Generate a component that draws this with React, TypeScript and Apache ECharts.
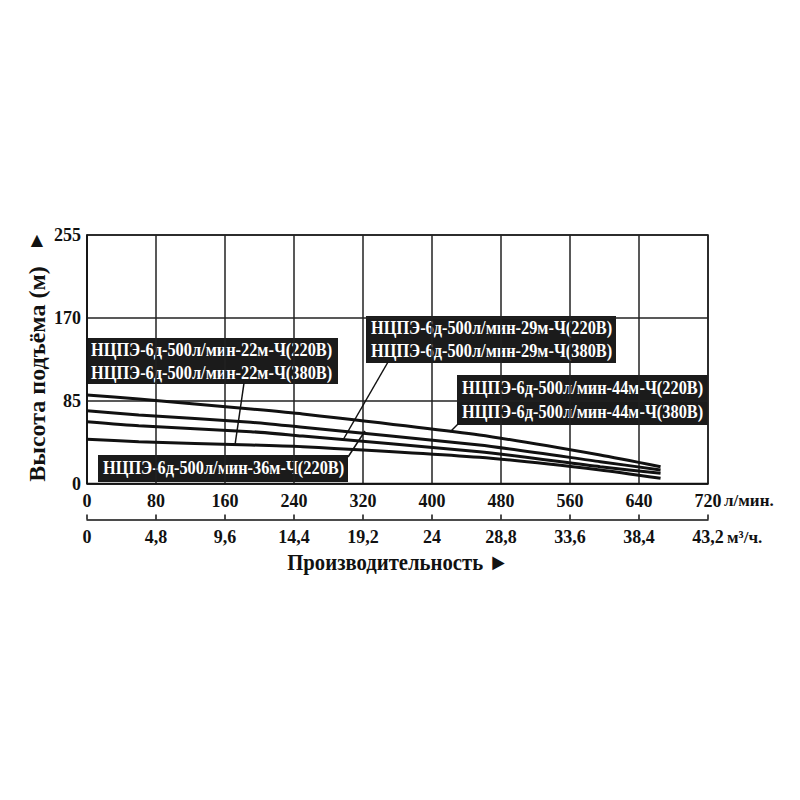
import { useEffect, useRef } from "react";
import * as echarts from "echarts";

// Flow rate points (l/min) at which head values were read
const flowPoints = [0, 60, 190, 250, 455, 595, 665];
// Head (m) for each model
const head44 = [90.8, 86.7, 76.4, 71.3, 49.8, 29.2, 17.2];
const head36 = [74.7, 70.3, 62.8, 57.7, 39.5, 22.4, 13.9];
const head29 = [63.4, 59.3, 53.2, 48.7, 32.6, 17.2, 10.5];
const head22 = [45.4, 42.9, 39.5, 37.8, 26.9, 13.9, 5.3];

const flowMin = 0;
const flowMax = 720;
const flowStep = 80;
const headMin = 0;
const headMax = 255;
const headStep = 85;
const m3TickLabels = ["0", "4,8", "9,6", "14,4", "19,2", "24", "28,8", "33,6", "38,4", "43,2"];

const labels22 = ["НЦПЭ-6д-500л/мин-22м-Ч(220В)", "НЦПЭ-6д-500л/мин-22м-Ч(380В)"];
const labels29 = ["НЦПЭ-6д-500л/мин-29м-Ч(220В)", "НЦПЭ-6д-500л/мин-29м-Ч(380В)"];
const labels44 = ["НЦПЭ-6д-500л/мин-44м-Ч(220В)", "НЦПЭ-6д-500л/мин-44м-Ч(380В)"];
const labels36 = ["НЦПЭ-6д-500л/мин-36м-Ч(220В)"];

const FONT = '"Liberation Serif", "Times New Roman", serif';

function box(x: number, y: number, w: number, h: number, lines: string[], lineYs: number[]) {
  return {
    type: "group",
    z: 100,
    children: [
      { type: "rect", shape: { x, y, width: w, height: h }, style: { fill: "#1b1b1b" } },
      ...lines.map((t, i) => ({
        type: "text",
        x: x + 5,
        y: lineYs[i],
        scaleX: 0.86,
        style: {
          text: t,
          fill: "#ffffff",
          fontSize: 19,
          fontWeight: "bold",
          fontFamily: FONT,
          textAlign: "left",
          textVerticalAlign: "middle",
        },
      })),
    ],
  };
}

function leader(x1: number, y1: number, x2: number, y2: number) {
  return {
    type: "line",
    z: 100,
    shape: { x1, y1, x2, y2 },
    style: { stroke: "#111", lineWidth: 1.5 },
  };
}

export default function App() {
  const ref = useRef<HTMLDivElement>(null);
  useEffect(() => {
    if (!ref.current) return;
    const chart = echarts.init(ref.current, undefined, { renderer: "svg" });
    const mk = (vals: number[]) => flowPoints.map((x, i) => [x, vals[i]]);
    const lineSeries = (name: string, vals: number[]) => ({
      name,
      type: "line",
      data: mk(vals),
      smooth: 0.2,
      symbol: "none",
      lineStyle: { color: "#111", width: 3 },
      xAxisIndex: 0,
      yAxisIndex: 0,
    });
    const labelStyle = { color: "#111", fontSize: 18, fontWeight: "bold", fontFamily: FONT };
    chart.setOption({
      animation: false,
      backgroundColor: "#ffffff",
      grid: {
        left: 87,
        top: 235,
        right: 92,
        bottom: 316.5,
        show: true,
        borderColor: "#111",
        borderWidth: 1.5,
        backgroundColor: "transparent",
      },
      xAxis: [
        {
          type: "value",
          min: flowMin,
          max: flowMax,
          interval: flowStep,
          position: "bottom",
          axisLine: { show: true, lineStyle: { color: "#111", width: 1.5 } },
          axisTick: { show: false },
          axisLabel: { ...labelStyle, margin: 8 },
          splitLine: { show: true, lineStyle: { color: "#222", width: 1.5 } },
        },
        {
          type: "value",
          min: flowMin,
          max: flowMax,
          interval: flowStep,
          position: "bottom",
          offset: 36,
          axisLine: { show: true, lineStyle: { color: "#111", width: 1.5 } },
          axisTick: { show: true, inside: true, length: 5, lineStyle: { color: "#111", width: 1.5 } },
          axisLabel: {
            ...labelStyle,
            margin: 8,
            formatter: (v: number) => m3TickLabels[Math.round(v / flowStep)] ?? "",
          },
          splitLine: { show: false },
        },
      ],
      yAxis: {
        type: "value",
        min: headMin,
        max: headMax,
        interval: headStep,
        axisLine: { show: true, lineStyle: { color: "#111", width: 1.5 } },
        axisTick: { show: false },
        axisLabel: { ...labelStyle, fontSize: 18, margin: 6 },
        splitLine: { show: true, lineStyle: { color: "#222", width: 1.5 } },
      },
      series: [
        lineSeries("44м", head44),
        lineSeries("36м", head36),
        lineSeries("29м", head29),
        lineSeries("22м", head22),
      ],
      graphic: [
        leader(244, 383, 235, 445),
        leader(388, 362, 343, 440),
        leader(348, 457, 365, 431),
        leader(458, 424, 450, 432),
        box(86, 338, 252, 46, labels22, [350, 373]),
        box(366, 316, 250, 47, labels29, [328, 351]),
        box(457, 375, 251, 50, labels44, [388, 412]),
        box(98, 455, 250, 27, labels36, [468]),
        {
          type: "text",
          x: 724,
          y: 500,
          style: { text: "л/мин.", fill: "#111", fontSize: 17, fontWeight: "bold", fontFamily: FONT, textAlign: "left", textVerticalAlign: "middle" },
        },
        {
          type: "text",
          x: 727,
          y: 537,
          style: { text: "м³/ч.", fill: "#111", fontSize: 17, fontWeight: "bold", fontFamily: FONT, textAlign: "left", textVerticalAlign: "middle" },
        },
        {
          type: "text",
          x: 398,
          y: 563,
          scaleX: 0.9,
          style: { text: "Производительность ►", fill: "#111", fontSize: 23, fontWeight: "bold", fontFamily: FONT, textAlign: "center", textVerticalAlign: "middle" },
        },
        {
          type: "text",
          x: 37,
          y: 374,
          rotation: Math.PI / 2,
          style: { text: "Высота подъёма (м)", fill: "#111", fontSize: 24, fontWeight: "bold", fontFamily: FONT, textAlign: "center", textVerticalAlign: "middle" },
        },
        {
          type: "text",
          x: 37,
          y: 239,
          style: { text: "▲", fill: "#111", fontSize: 16, fontFamily: "DejaVu Sans", textAlign: "center", textVerticalAlign: "middle" },
        },
      ],
    });
    return () => chart.dispose();
  }, []);
  return (
    <div
      ref={ref}
      style={{ position: "fixed", left: 0, top: 0, width: 800, height: 800, background: "#fff" }}
    />
  );
}
